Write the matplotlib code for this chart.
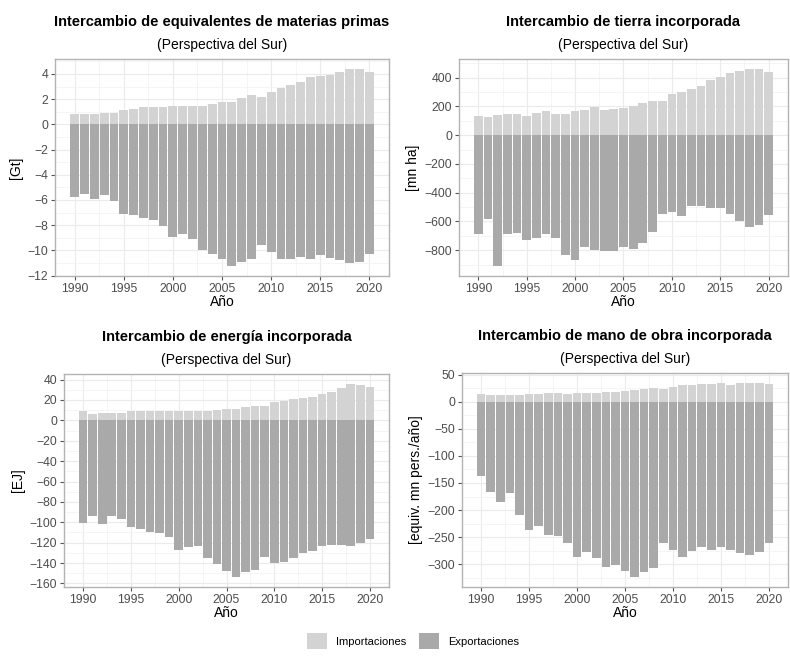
import numpy as np
import matplotlib
matplotlib.use('Agg')
import matplotlib.pyplot as plt
from matplotlib.patches import Patch
from matplotlib.ticker import MultipleLocator

plt.rcParams['font.family'] = ['Liberation Sans', 'DejaVu Sans']

years = np.arange(1990, 2021)

# materias primas [Gt]
imp_mat = [0.85, 0.8, 0.85, 0.9, 0.9, 1.15, 1.25, 1.35, 1.35, 1.35, 1.45, 1.45, 1.45, 1.45, 1.6,
           1.75, 1.8, 2.05, 2.3, 2.2, 2.6, 2.9, 3.1, 3.35, 3.75, 3.85, 3.95, 4.15, 4.4, 4.4, 4.15]
exp_mat = [-5.8, -5.5, -5.95, -5.6, -6.1, -7.1, -7.2, -7.4, -7.6, -8.1, -8.9, -8.7, -9.1, -10.0, -10.25,
           -10.65, -11.25, -10.95, -10.7, -9.55, -10.1, -10.65, -10.65, -10.5, -10.65, -10.4, -10.6, -10.75, -11.0, -10.95, -10.3]

# tierra [mn ha]
imp_tie = [135, 125, 140, 145, 145, 135, 155, 165, 145, 150, 170, 175, 195, 175, 180,
           190, 205, 220, 235, 240, 285, 300, 320, 340, 385, 405, 430, 445, 460, 460, 435]
exp_tie = [-690, -580, -910, -685, -680, -730, -715, -685, -715, -830, -865, -775, -795, -805, -805,
           -775, -790, -750, -670, -545, -535, -560, -495, -490, -505, -505, -545, -595, -640, -625, -555]

# energia [EJ]
imp_ene = [9, 6, 7, 7, 7, 9, 9, 9, 9, 9, 9, 9, 9, 9, 10,
           11, 11, 13, 14, 14, 18, 19, 21, 22, 23, 26, 28, 32, 36, 35, 33]
exp_ene = [-101, -94, -102, -94, -97, -105, -107, -110, -111, -114, -127, -124, -123, -135, -141,
           -148, -154, -149, -147, -134, -140, -139, -135, -130, -128, -123, -122, -122, -123, -120, -116]

# mano de obra [equiv. mn pers./año]
imp_mo = [14, 12, 12, 12, 12, 14, 15, 16, 16, 14, 16, 16, 16, 17, 18,
          19, 21, 24, 26, 24, 28, 30, 31, 32, 33, 34, 31, 34, 35, 35, 33]
exp_mo = [-138, -167, -185, -168, -209, -236, -229, -246, -248, -261, -286, -277, -288, -305, -301,
          -313, -324, -314, -306, -261, -274, -286, -276, -268, -274, -268, -274, -279, -283, -277, -261]

titles = ['Intercambio de equivalentes de materias primas', 'Intercambio de tierra incorporada',
          'Intercambio de energía incorporada', 'Intercambio de mano de obra incorporada']
subtitle = '(Perspectiva del Sur)'
ylabels = ['[Gt]', '[mn ha]', '[EJ]', '[equiv. mn pers./año]']
ysteps = [2, 200, 20, 50]
data = [(imp_mat, exp_mat), (imp_tie, exp_tie), (imp_ene, exp_ene), (imp_mo, exp_mo)]

col_imp = '#d3d3d3'
col_exp = '#a9a9a9'

W, H = 790, 658
# axes boxes in pixels: left, top, right, bottom
boxes = [(55, 59, 389, 276), (459, 59, 788, 276), (64, 374, 389, 587), (462, 373, 788, 587)]

fig = plt.figure(figsize=(W/100, H/100), dpi=100)

for i in range(4):
    l, t, r, b = boxes[i]
    ax = fig.add_axes([l/W, 1-b/H, (r-l)/W, (b-t)/H])
    imp, exp = data[i]
    ax.bar(years, imp, width=0.9, color=col_imp, zorder=3)
    ax.bar(years, exp, width=0.9, color=col_exp, zorder=3)
    lo = min(exp); hi = max(imp)
    pad = (hi-lo)*0.05
    ax.set_ylim(lo-pad, hi+pad)
    ax.set_xlim(1988.0, 2022.0)
    ax.xaxis.set_major_locator(MultipleLocator(5))
    ax.xaxis.set_minor_locator(MultipleLocator(2.5))
    ax.yaxis.set_major_locator(MultipleLocator(ysteps[i]))
    ax.yaxis.set_minor_locator(MultipleLocator(ysteps[i]/2))
    ax.grid(True, which='major', color='#ebebeb', linewidth=0.8, zorder=0)
    ax.grid(True, which='minor', color='#f2f2f2', linewidth=0.5, zorder=0)
    for s in ax.spines.values():
        s.set_color('#b3b3b3')
        s.set_linewidth(1.0)
    ax.tick_params(which='major', length=3, color='#555555', labelcolor='#4d4d4d', labelsize=8.8, pad=2)
    ax.tick_params(which='minor', length=0)
    ax.set_xlabel('Año', fontsize=10, labelpad=0)
    ax.set_ylabel(ylabels[i], fontsize=10, labelpad=3)
    cx = (l + r) / 2 / W
    fig.text(cx, 1 - (t - 37) / H, titles[i], ha='center', va='center', fontsize=10.5, fontweight='bold')
    fig.text(cx, 1 - (t - 14) / H, subtitle, ha='center', va='center', fontsize=10)

handles = [Patch(facecolor=col_imp, label='Importaciones'), Patch(facecolor=col_exp, label='Exportaciones')]
fig.legend(handles=handles, loc='center', bbox_to_anchor=(413/W, 1-641/H), ncol=2, frameon=False,
           fontsize=8, handlelength=1.8, handleheight=1.8, columnspacing=1.2)

fig.savefig('out.png', dpi=100)
